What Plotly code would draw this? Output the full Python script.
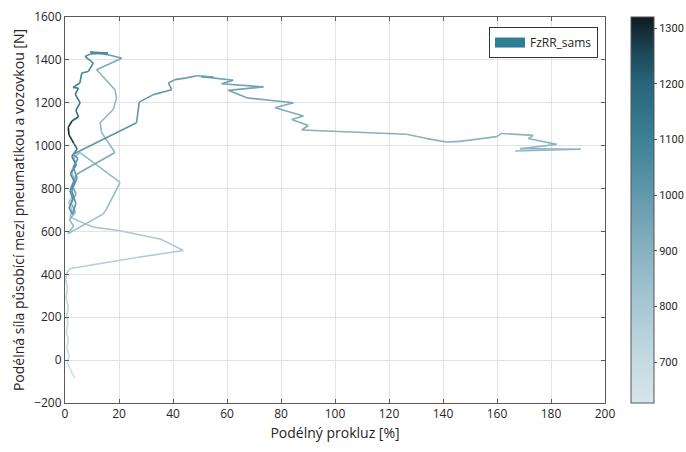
import plotly.graph_objects as go
from plotly.colors import sample_colorscale

# Longitudinal slip [%], longitudinal force [N] and vertical load FzRR_sams [N]
slip = [
    3.7, 2.8, 1.9, 0.8, 1.6, 0.7, 1.2, 0.5, 1.1, 0.6, 1.2, 0.4, 0.9, 0.3, 0.6, 2.0,
    27.8, 43.8, 35.9, 20.4, 10.5, 1.9,
    2.6, 1.4, 3.0, 2.1, 3.6, 2.4, 4.0, 3.1, 5.6,
    20.4, 15.4, 14.2, 1.1,
    3.2, 1.6, 3.8, 2.2, 4.1, 2.6, 4.3,
    18.5, 13.6, 13.0, 17.9, 19.1, 18.5, 11.7, 21.0,
    16.4, 9.3, 15.9, 9.5, 7.4, 10.5, 8.6, 6.2, 5.5, 3.0, 5.0, 3.8, 5.6, 4.0, 5.0,
    2.6, 1.2, 1.5, 3.2, 4.5, 2.5, 4.2, 2.0, 3.5, 1.8, 3.0, 1.5, 2.8,
    4.0, 2.5, 4.5, 3.0, 4.8, 3.0,
    26.5, 27.5, 32.7, 39.5, 38.3, 40.7, 45.0, 48.8, 54.9, 50.5, 62.3, 58.0, 73.5,
    60.5, 67.3, 84.6, 77.8, 88.3, 84.0, 90.1, 87.7, 126.5, 134.0, 141.4, 146.3,
    159.9, 161.7, 173.4, 171.6, 182.1, 168.5, 191.0, 166.7,
]
force = [
    -84, -65, -40, -10, 20, 55, 95, 130, 172, 209, 250, 290, 333, 375, 405, 427,
    481, 511, 562, 603, 620, 666,
    700, 735, 770, 805, 840, 880, 915, 945, 968,
    829, 705, 682, 589,
    625, 655, 690, 735, 775, 815, 867,
    968, 1061, 1107, 1169, 1223, 1261, 1354, 1408,
    1423, 1437, 1432, 1428, 1416, 1385, 1346, 1339, 1292, 1272, 1268, 1240, 1200, 1165, 1135,
    1115, 1085, 1050, 1012, 985, 950, 910, 870, 830, 790, 750, 710, 680,
    730, 790, 850, 900, 940, 960,
    1107, 1203, 1238, 1261, 1292, 1308, 1316, 1326, 1320, 1322, 1305, 1289, 1274,
    1258, 1223, 1200, 1177, 1138, 1122, 1094, 1073, 1053, 1033, 1017, 1020,
    1042, 1057, 1048, 1033, 1006, 986, 983, 975,
]
fz = [
    660, 665, 670, 675, 680, 688, 695, 700, 708, 715, 722, 730, 738, 745, 752, 760,
    775, 790, 795, 800, 805, 810,
    815, 820, 828, 835, 842, 850, 858, 864, 870,
    860, 850, 845, 840,
    870, 890, 910, 930, 950, 970, 985,
    880, 875, 870, 868, 872, 880, 900, 960,
    1020, 1050, 1060, 1060, 1060, 1060, 1070, 1080, 1090, 1110, 1120, 1120, 1130, 1150, 1180,
    1250, 1310, 1310, 1250, 1150, 1110, 1090, 1070, 1060, 1050, 1040, 1030, 1020,
    1020, 1020, 1020, 1020, 1020, 1020,
    1010, 1005, 1000, 995, 990, 990, 985, 985, 980, 980, 970, 965, 955,
    950, 945, 935, 930, 925, 920, 915, 910, 905, 905, 900, 900,
    895, 895, 890, 890, 885, 880, 880, 875,
]

x_ticks = list(range(0, 201, 20))
y_ticks = list(range(-200, 1601, 200))
cbar_ticks = [700, 800, 900, 1000, 1100, 1200, 1300]
fz_min, fz_max = 627, 1320

teal_scale = [
    [0.000, "#d7e5eb"],
    [0.105, "#c6dbe3"],
    [0.250, "#a8c8d3"],
    [0.394, "#88b2c1"],
    [0.538, "#6399ac"],
    [0.683, "#3d8196"],
    [0.827, "#28657a"],
    [0.913, "#1c4656"],
    [1.000, "#0e1c22"],
]

font_family = "Open Sans, Noto Sans, sans-serif"
ink = "#262626"

fig = go.Figure()

# Path drawn segment by segment, each coloured by the mean vertical load
for i in range(len(slip) - 1):
    level = ((fz[i] + fz[i + 1]) / 2 - fz_min) / (fz_max - fz_min)
    level = min(max(level, 0.0), 1.0)
    colour = sample_colorscale(teal_scale, [level])[0]
    fig.add_trace(go.Scatter(
        x=[slip[i], slip[i + 1]], y=[force[i], force[i + 1]],
        mode="lines", line=dict(color=colour, width=1.6),
        showlegend=False, hoverinfo="skip",
    ))

# Invisible markers carrying the colour bar
fig.add_trace(go.Scatter(
    x=slip, y=force, mode="markers",
    marker=dict(
        color=fz, colorscale=teal_scale, cmin=fz_min, cmax=fz_max,
        size=4, opacity=0,
        colorbar=dict(
            x=1.048, xanchor="left", y=0.5, yanchor="middle",
            len=1.0, lenmode="fraction", thickness=23, thicknessmode="pixels",
            outlinecolor="#555555", outlinewidth=1,
            tickvals=cbar_ticks, ticks="outside", ticklen=3,
            tickcolor="#555555",
            tickfont=dict(size=11, color=ink, family="Roboto, sans-serif"),
            xpad=0, ypad=0,
        ),
        showscale=True,
    ),
    showlegend=False, hoverinfo="skip",
))

# Legend entry
fig.add_trace(go.Scatter(
    x=[None], y=[None], mode="lines", name="FzRR_sams",
    line=dict(color="#2f7d93", width=11),
))

axis_common = dict(
    showline=True, linecolor="#5a5a5a", linewidth=1, mirror="ticks",
    ticks="inside", ticklen=4, tickcolor="#5a5a5a",
    showgrid=True, gridcolor="#e3e3e3", gridwidth=1,
    zeroline=False,
    tickfont=dict(size=12, color=ink, family=font_family),
)

fig.update_layout(
    width=686, height=452,
    margin=dict(l=65, r=81, t=17, b=49, autoexpand=False),
    paper_bgcolor="white", plot_bgcolor="white",
    font=dict(family=font_family, color=ink),
    xaxis=dict(
        range=[0, 200], tickvals=x_ticks,
        title=dict(text="Podélný prokluz [%]", font=dict(size=14, color=ink), standoff=6),
        **axis_common,
    ),
    yaxis=dict(
        range=[-200, 1600], tickvals=y_ticks,
        title=dict(text="Podélná síla působící mezi pneumatikou a vozovkou [N]",
                   font=dict(size=14, color=ink), standoff=6),
        **axis_common,
    ),
    legend=dict(
        x=0.987, xanchor="right", y=0.974, yanchor="top",
        bgcolor="white", bordercolor="#333333", borderwidth=1,
        font=dict(size=12, color=ink, family=font_family),
        itemwidth=30,
    ),
)

fig.write_html("out.html")
